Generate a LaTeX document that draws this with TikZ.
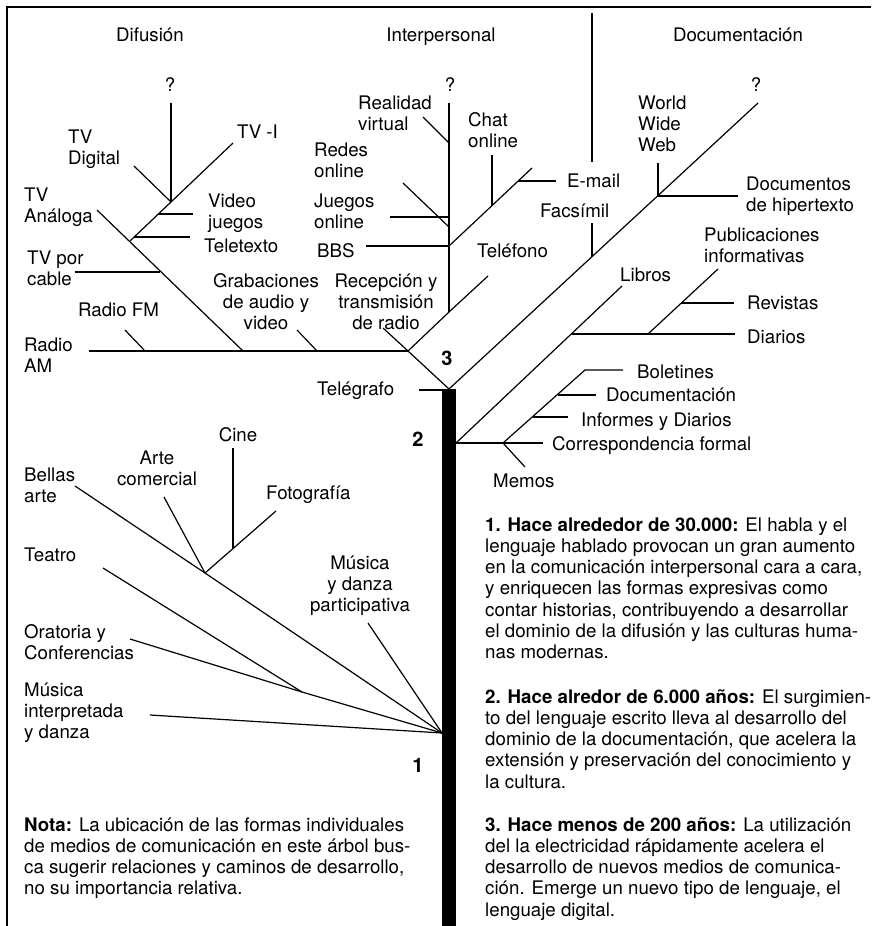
\documentclass[tikz,border=0pt]{standalone}
\usepackage{fontspec}
\setmainfont{TeX Gyre Heros}
\begin{document}
\begin{tikzpicture}[x=1pt,y=-1pt,
  br/.style={line width=1.2pt},
  frame/.style={line width=2pt},
  lbl/.style={inner sep=0pt, font=\fontsize{18.7}{21.3}\selectfont, align=left, anchor=base west},
  lblc/.style={inner sep=0pt, font=\fontsize{18.7}{21.3}\selectfont, align=center, anchor=base},
  num/.style={inner sep=0pt, font=\fontsize{20}{22}\selectfont\bfseries, anchor=center}]
\useasboundingbox (0,0) rectangle (871,926);
% frame
\coordinate (fTL) at (7,7); \coordinate (fTR) at (871,7); \coordinate (fBL) at (7,926);
\draw[frame] (fTR) -- (fTL) -- (fBL);
% divider
\coordinate (dvT) at (592,13); \coordinate (dvB) at (592,162);
\draw[br] (dvT) -- (dvB);
% trunk
\coordinate (tkTL) at (442,389); \coordinate (tkBR) at (456,926);
\fill (tkTL) rectangle (tkBR);
\coordinate (J3) at (449,389);
% ---- Difusion (upper)
\coordinate (jL) at (408,351); \coordinate (rdE) at (383,328);
\coordinate (amW) at (89,351);
\coordinate (fmA) at (125,330); \coordinate (fmB) at (145,351);
\coordinate (tvaA) at (97,210); \coordinate (tvaB) at (243,351);
\coordinate (cabA) at (75,272); \coordinate (cabB) at (160,272);
\coordinate (tvbA) at (130,241); \coordinate (tvbB) at (233,143);
\coordinate (ttA) at (134,237); \coordinate (ttB) at (190,237);
\coordinate (vjA) at (158,214); \coordinate (vjB) at (193,214);
\coordinate (tdA) at (134,166); \coordinate (tdB) at (171,202);
\coordinate (qA) at (171,103);
\coordinate (grA) at (297,330); \coordinate (grB) at (317,351);
\draw[br] (rdE) -- (jL) -- (J3);
\draw[br] (amW) -- (jL);
\draw[br] (fmA) -- (fmB);
\draw[br] (tvaA) -- (tvaB);
\draw[br] (cabA) -- (cabB);
\draw[br] (tvbA) -- (tvbB);
\draw[br] (ttA) -- (ttB);
\draw[br] (vjA) -- (vjB);
\draw[br] (tdA) -- (tdB);
\draw[br] (qA) -- (tdB);
\draw[br] (grA) -- (grB);
% ---- Interpersonal
\coordinate (ipJ) at (449,312); \coordinate (telE) at (488,276);
\coordinate (ipTop) at (449,103);
\coordinate (rvA) at (423,117); \coordinate (rvB) at (449,143);
\coordinate (roA) at (403,183); \coordinate (roB) at (449,227);
\coordinate (joA) at (390,217); \coordinate (joB) at (449,217);
\coordinate (bbA) at (366,246); \coordinate (bbB) at (449,246);
\coordinate (chE) at (532,168);
\coordinate (chA) at (492,155); \coordinate (chB) at (492,206);
\coordinate (emA) at (518,181); \coordinate (emB) at (556,181);
\draw[br] (jL) -- (ipJ) -- (telE);
\draw[br] (ipJ) -- (ipTop);
\draw[br] (rvA) -- (rvB);
\draw[br] (roA) -- (roB);
\draw[br] (joA) -- (joB);
\draw[br] (bbA) -- (bbB);
\draw[br] (bbB) -- (chE);
\draw[br] (chA) -- (chB);
\draw[br] (emA) -- (emB);
% ---- Documentacion
\coordinate (docE) at (758,103);
\coordinate (fxA) at (592,223); \coordinate (fxB) at (592,257);
\coordinate (wwA) at (658,163); \coordinate (wwB) at (658,196);
\coordinate (dhB) at (738,196);
\coordinate (lbS) at (456,443); \coordinate (lbE) at (622,286);
\coordinate (diA) at (572,334); \coordinate (diB) at (735,334);
\coordinate (puA) at (648,334); \coordinate (puE) at (718,269);
\coordinate (rsA) at (681,303); \coordinate (rsB) at (734,303);
\coordinate (coE) at (543,443);
\coordinate (ldA) at (503,443); \coordinate (ldB) at (585,370);
\coordinate (boB) at (623,370);
\coordinate (dcA) at (558,395); \coordinate (dcB) at (596,395);
\coordinate (ifA) at (533,417); \coordinate (ifB) at (568,417);
\coordinate (meB) at (525,467);
\coordinate (tgA) at (419,390); \coordinate (tgB) at (442,390);
\draw[br] (J3) -- (docE);
\draw[br] (fxA) -- (fxB);
\draw[br] (wwA) -- (wwB) -- (dhB);
\draw[br] (lbS) -- (lbE);
\draw[br] (diA) -- (diB);
\draw[br] (puA) -- (puE);
\draw[br] (rsA) -- (rsB);
\draw[br] (lbS) -- (coE);
\draw[br] (ldA) -- (ldB) -- (boB);
\draw[br] (dcA) -- (dcB);
\draw[br] (ifA) -- (ifB);
\draw[br] (ldA) -- (meB);
\draw[br] (tgA) -- (tgB);
% ---- lower fan
\coordinate (J1) at (442,733);
\coordinate (baA) at (75,486); \coordinate (baM) at (205,573);
\coordinate (acA) at (164,497);
\coordinate (foA) at (276,511);
\coordinate (ciA) at (233,448); \coordinate (ciB) at (233,548);
\coordinate (teA) at (103,568); \coordinate (orM) at (302,692);
\coordinate (orA) at (130,639);
\coordinate (miA) at (150,715);
\coordinate (mpA) at (368,623);
\draw[br] (baA) -- (baM) -- (J1);
\draw[br] (acA) -- (baM);
\draw[br] (foA) -- (baM);
\draw[br] (ciA) -- (ciB);
\draw[br] (teA) -- (orM);
\draw[br] (orA) -- (orM) -- (J1);
\draw[br] (miA) -- (J1);
\draw[br] (mpA) -- (J1);
% ---- labels (base = baseline of the last line)
\node[lblc] (hDif) at (150,41) {Difusión};
\node[lblc] (hInt) at (441,41) {Interpersonal};
\node[lblc] (hDoc) at (738,41) {Documentación};
\node[lblc] (q1) at (170,91) {?};
\node[lblc] (q2) at (450,91) {?};
\node[lblc] (q3) at (756,91) {?};
\node[lbl] (tTD) at (68,164.3) {TV\\Digital};
\node[lbl] (tTI) at (237,138) {TV -I};
\node[lbl] (tTA) at (24,222.3) {TV\\Análoga};
\node[lbl] (tVJ) at (208,228.3) {Video\\juegos};
\node[lbl] (tTT) at (204,252) {Teletexto};
\node[lbl] (tTC) at (27,285.3) {TV por\\cable};
\node[lbl] (tFM) at (78,316) {Radio FM};
\node[lbl] (tAM) at (24,372.3) {Radio\\AM};
\node[lblc] (tGR) at (266,329.6) {Grabaciones\\de audio y\\video};
\node[lblc] (tRT) at (386,329.6) {Recepción y\\transmisión\\de radio};
\node[lbl] (tRV) at (358,130.3) {Realidad\\virtual};
\node[lbl] (tRO) at (314,177.3) {Redes\\online};
\node[lbl] (tJO) at (314,228.3) {Juegos\\online};
\node[lbl] (tBB) at (317,257) {BBS};
\node[lbl] (tCH) at (468,147.3) {Chat\\online};
\node[lbl] (tEM) at (567,187) {E-mail};
\node[lbl] (tFX) at (540,217) {Facsímil};
\node[lbl] (tTE) at (477,257) {Teléfono};
\node[lbl] (tWW) at (638,151.6) {World\\Wide\\Web};
\node[lbl] (tDH) at (746,211.3) {Documentos\\de hipertexto};
\node[lbl] (tPI) at (704,262.3) {Publicaciones\\informativas};
\node[lbl] (tLI) at (620,281) {Libros};
\node[lbl] (tRE) at (747,309) {Revistas};
\node[lbl] (tDI) at (747,343) {Diarios};
\node[num] (n3) at (447,358) {3};
\node[lbl] (tTG) at (317,395) {Telégrafo};
\node[num] (n2) at (418,439) {2};
\node[lbl] (tBO) at (637,378) {Boletines};
\node[lbl] (tDC) at (606,401) {Documentación};
\node[lbl] (tIF) at (581,426) {Informes y Diarios};
\node[lbl] (tCF) at (552,450) {Correspondencia formal};
\node[lbl] (tME) at (493,487) {Memos};
\node[lblc] (tCI) at (238,441) {Cine};
\node[lblc] (tAC) at (157,485.3) {Arte\\comercial};
\node[lbl] (tBA) at (24,502.3) {Bellas\\arte};
\node[lbl] (tFO) at (266,499) {Fotografía};
\node[lbl] (tTEA) at (24,561) {Teatro};
\node[lblc] (tMP) at (360,611.6) {Música\\y danza\\participativa};
\node[lbl] (tOR) at (24,659.3) {Oratoria y\\Conferencias};
\node[lbl] (tMI) at (24,738.6) {Música\\interpretada\\y danza};
\node[num] (n1) at (418,765) {1};
\node[lbl] (p1) at (485,658.8) {\textbf{1. Hace alrededor de 30.000:} El habla y el\\lenguaje hablado provocan un gran aumento\\en la comunicación interpersonal cara a cara,\\y enriquecen las formas expresivas como\\contar historias, contribuyendo a desarrollar\\el dominio de la difusión y las culturas huma-\\nas modernas.};
\node[lbl] (p2) at (485,788.2) {\textbf{2. Hace alredor de 6.000 años:} El surgimien-\\to del lenguaje escrito lleva al desarrollo del\\dominio de la documentación, que acelera la\\extensión y preservación del conocimiento y\\la cultura.};
\node[lbl] (p3) at (485,916.2) {\textbf{3. Hace menos de 200 años:} La utilización\\del la electricidad rápidamente acelera el\\desarrollo de nuevos medios de comunica-\\ción. Emerge un nuevo tipo de lenguaje, el\\lenguaje digital.};
\node[lbl] (pN) at (24,894.9) {\textbf{Nota:} La ubicación de las formas individuales\\de medios de comunicación en este árbol bus-\\ca sugerir relaciones y caminos de desarrollo,\\no su importancia relativa.};
\end{tikzpicture}
\end{document}
